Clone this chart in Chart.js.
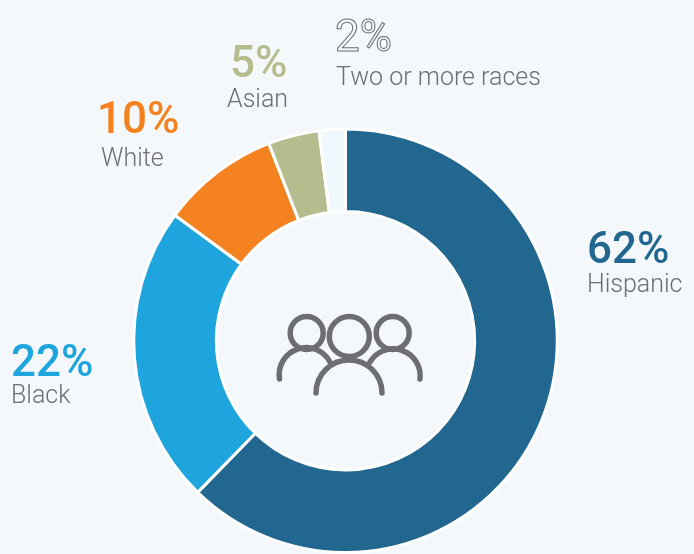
<!DOCTYPE html>
<html>
<head>
<meta charset="utf-8">
<script src="https://cdn.jsdelivr.net/npm/chart.js@4"></script>
<style>
  html, body { margin: 0; padding: 0; background: #f4f8fb; }
  #wrap { position: relative; width: 694px; height: 554px; overflow: hidden; }
  canvas { position: absolute; left: 0; top: 0; }
  .pct, .name { position: absolute; white-space: nowrap; line-height: 1; }
  .pct { font: 500 44px Roboto, sans-serif; }
  .name { font: 300 25px Roboto, sans-serif; color: #6d6e71; }
  #icon { position: absolute; left: 0; top: 0; }
</style>
</head>
<body>
<div id="wrap">
  <canvas id="chartRas" width="694" height="554"></canvas>
  <svg id="icon" width="694" height="554" fill="none" stroke="#6d6e71" stroke-width="5.5" stroke-linecap="round">
    <circle cx="306.7" cy="333" r="16.5"/>
    <circle cx="349.3" cy="336.5" r="20"/>
    <circle cx="392.7" cy="333" r="16.5"/>
    <path d="M279.5 379 A27 27 0 0 1 330 362"/>
    <path d="M420 379 A27 27 0 0 0 370 362"/>
    <path d="M316 393 A33 33 0 0 1 382 393"/>
  </svg>
  <div id="labels"></div>
</div>
<script>
// Data
var categories = ['Hispanic', 'Black', 'White', 'Asian', 'Two or more races'];
var percentLabels = ['62%', '22%', '10%', '5%', '2%'];
// Ukuran irisan seperti yang tergambar (tidak persis sama dengan label)
var sliceValues = [62.3, 22.8, 9, 3.9, 2];
var sliceColors = ['#22678f', '#1ea5de', '#f58220', '#b5bd8f', '#eff8fd'];
var pctColors = ['#22678f', '#1ea5de', '#f58220', '#b5bd8f', 'transparent'];

// Posisi teks: x, y persen, x, y nama
var labelPos = [
  [587, 222, 587, 269],
  [11, 335, 11, 380],
  [97, 92, 101, 143],
  [230, 36, 227, 84],
  [335, 10, 336, 62]
];

var holder = document.getElementById('labels');
categories.forEach(function (cat, i) {
  var p = document.createElement('div');
  p.className = 'pct';
  p.textContent = percentLabels[i];
  p.style.left = labelPos[i][0] + 'px';
  p.style.top = labelPos[i][1] + 'px';
  p.style.color = pctColors[i];
  if (i === 4) {
    p.style.webkitTextStroke = '1px #6d6e71';
    p.style.fontWeight = '400';
  }
  holder.appendChild(p);

  var n = document.createElement('div');
  n.className = 'name';
  n.textContent = cat;
  n.style.left = labelPos[i][2] + 'px';
  n.style.top = labelPos[i][3] + 'px';
  holder.appendChild(n);
});

var ctx = document.getElementById('chartRas').getContext('2d');
var myChart = new Chart(ctx, {
  type: 'doughnut',
  data: {
    labels: categories,
    datasets: [{
      data: sliceValues,
      backgroundColor: sliceColors,
      borderColor: '#ffffff',
      borderWidth: 3
    }]
  },
  options: {
    responsive: false,
    animation: false,
    cutout: '61%',
    layout: { padding: { left: 132, right: 135, top: 127.5, bottom: 0 } },
    plugins: { legend: { display: false }, tooltip: { enabled: false } }
  }
});
</script>
</body>
</html>
